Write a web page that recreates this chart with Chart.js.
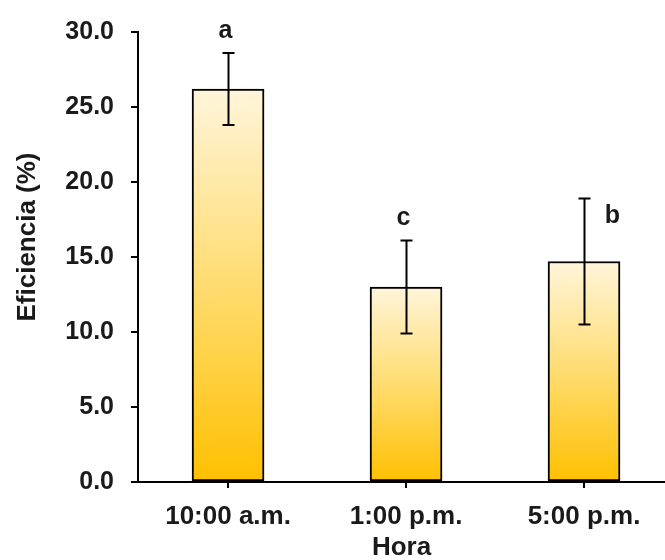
<!DOCTYPE html>
<html>
<head>
<meta charset="utf-8">
<script src="https://cdn.jsdelivr.net/npm/chart.js@4"></script>
<style>
  html, body { margin: 0; padding: 0; background: #fff; }
  #wrap { width: 665px; height: 560px; }
</style>
</head>
<body>
<div id="wrap"><canvas id="myChart"></canvas></div>
<script>
'use strict'

// datos
const horas = ['10:00 a.m.', '1:00 p.m.', '5:00 p.m.'];
const eficiencia = [26.2, 13.0, 14.7];
const errores = [2.4, 3.1, 4.2];
const letras = ['a', 'c', 'b'];
const yTicks = [0, 5, 10, 15, 20, 25, 30];

const FONT = "'Liberation Sans', Arial, sans-serif";
const TXT = '#1a1a1a';

// barras con degradado (claro arriba, naranja abajo)
function gradiente(ctx) {
  const chart = ctx.chart;
  if (!chart.chartArea || !ctx.raw) return '#FFC000';
  const y = chart.scales.y;
  const top = y.getPixelForValue(ctx.raw.y);
  const bottom = y.getPixelForValue(0);
  const g = chart.ctx.createLinearGradient(0, top, 0, bottom);
  g.addColorStop(0, '#FFF5DA');
  g.addColorStop(0.5, '#FFDC70');
  g.addColorStop(1, '#FFC000');
  return g;
}

// barras de error + letras + titulo del eje y
const extras = {
  id: 'extras',
  afterDatasetsDraw(chart, args, opts) {
    const c = chart.ctx;
    const x = chart.scales.x;
    const y = chart.scales.y;
    c.save();
    c.strokeStyle = '#000';
    c.lineWidth = 2;
    for (let i = 0; i < eficiencia.length; i++) {
      const px = Math.round(x.getPixelForValue(i)) + 0.5;
      const hi = y.getPixelForValue(eficiencia[i] + errores[i]);
      const lo = y.getPixelForValue(eficiencia[i] - errores[i]);
      c.beginPath();
      c.moveTo(px, hi); c.lineTo(px, lo);
      c.moveTo(px - opts.cap, hi); c.lineTo(px + opts.cap, hi);
      c.moveTo(px - opts.cap, lo); c.lineTo(px + opts.cap, lo);
      c.stroke();

      const off = opts.offsets[i];
      c.fillStyle = TXT;
      c.font = 'bold 25px ' + FONT;
      c.textAlign = 'center';
      c.textBaseline = 'middle';
      c.fillText(letras[i], px + off[0], hi + off[1]);
    }

    // titulo eje y
    c.translate(opts.yTitle[0], opts.yTitle[1]);
    c.rotate(-Math.PI / 2);
    c.font = 'bold 26px ' + FONT;
    c.fillText('Eficiencia (%)', 0, 0);
    c.restore();
  }
};

let ctx = document.getElementById('myChart');

new Chart(ctx, {
  type: 'bar',
  data: {
    datasets: [{
      label: 'Eficiencia',
      data: eficiencia.map((v, i) => ({ x: i, y: v })),
      backgroundColor: gradiente,
      borderColor: '#000',
      borderWidth: 2,
      borderSkipped: false,
      barThickness: 72
    }]
  },
  plugins: [extras],
  options: {
    responsive: true,
    maintainAspectRatio: false,
    animation: false,
    layout: { padding: { top: 25, right: 0, left: 0, bottom: 0 } },
    plugins: {
      legend: { display: false },
      tooltip: { enabled: false },
      extras: { cap: 6, offsets: [[-3, -22], [-3, -22], [28, 18]], yTitle: [28, 237] }
    },
    scales: {
      x: {
        type: 'linear',
        offset: false,
        min: -0.506,
        max: 2.455,
        afterBuildTicks: (s) => { s.ticks = horas.map((h, i) => ({ value: i })); },
        afterFit: (s) => { s.height = 78; },
        border: { display: true, color: '#000', width: 2 },
        grid: { offset: false, drawOnChartArea: false, drawTicks: true, tickLength: 6, color: '#000', lineWidth: 2 },
        ticks: {
          autoSkip: false,
          maxRotation: 0,
          padding: 13,
          color: TXT,
          font: { family: FONT, size: 26, weight: 'bold' },
          callback: (v) => horas[v]
        },
        title: {
          display: true,
          text: 'Hora',
          color: TXT,
          padding: { top: 0, bottom: -3 },
          font: { family: FONT, size: 26, weight: 'bold' }
        }
      },
      y: {
        min: 0,
        max: 30,
        afterBuildTicks: (s) => { s.ticks = yTicks.map(v => ({ value: v })); },
        afterFit: (s) => { s.width = 138; },
        border: { display: true, color: '#000', width: 2 },
        grid: { drawOnChartArea: false, drawTicks: true, tickLength: 7, color: '#000', lineWidth: 2 },
        ticks: {
          padding: 17,
          color: TXT,
          font: { family: FONT, size: 25, weight: 'bold' },
          callback: (v) => v.toFixed(1)
        }
      }
    }
  }
});
</script>
</body>
</html>
